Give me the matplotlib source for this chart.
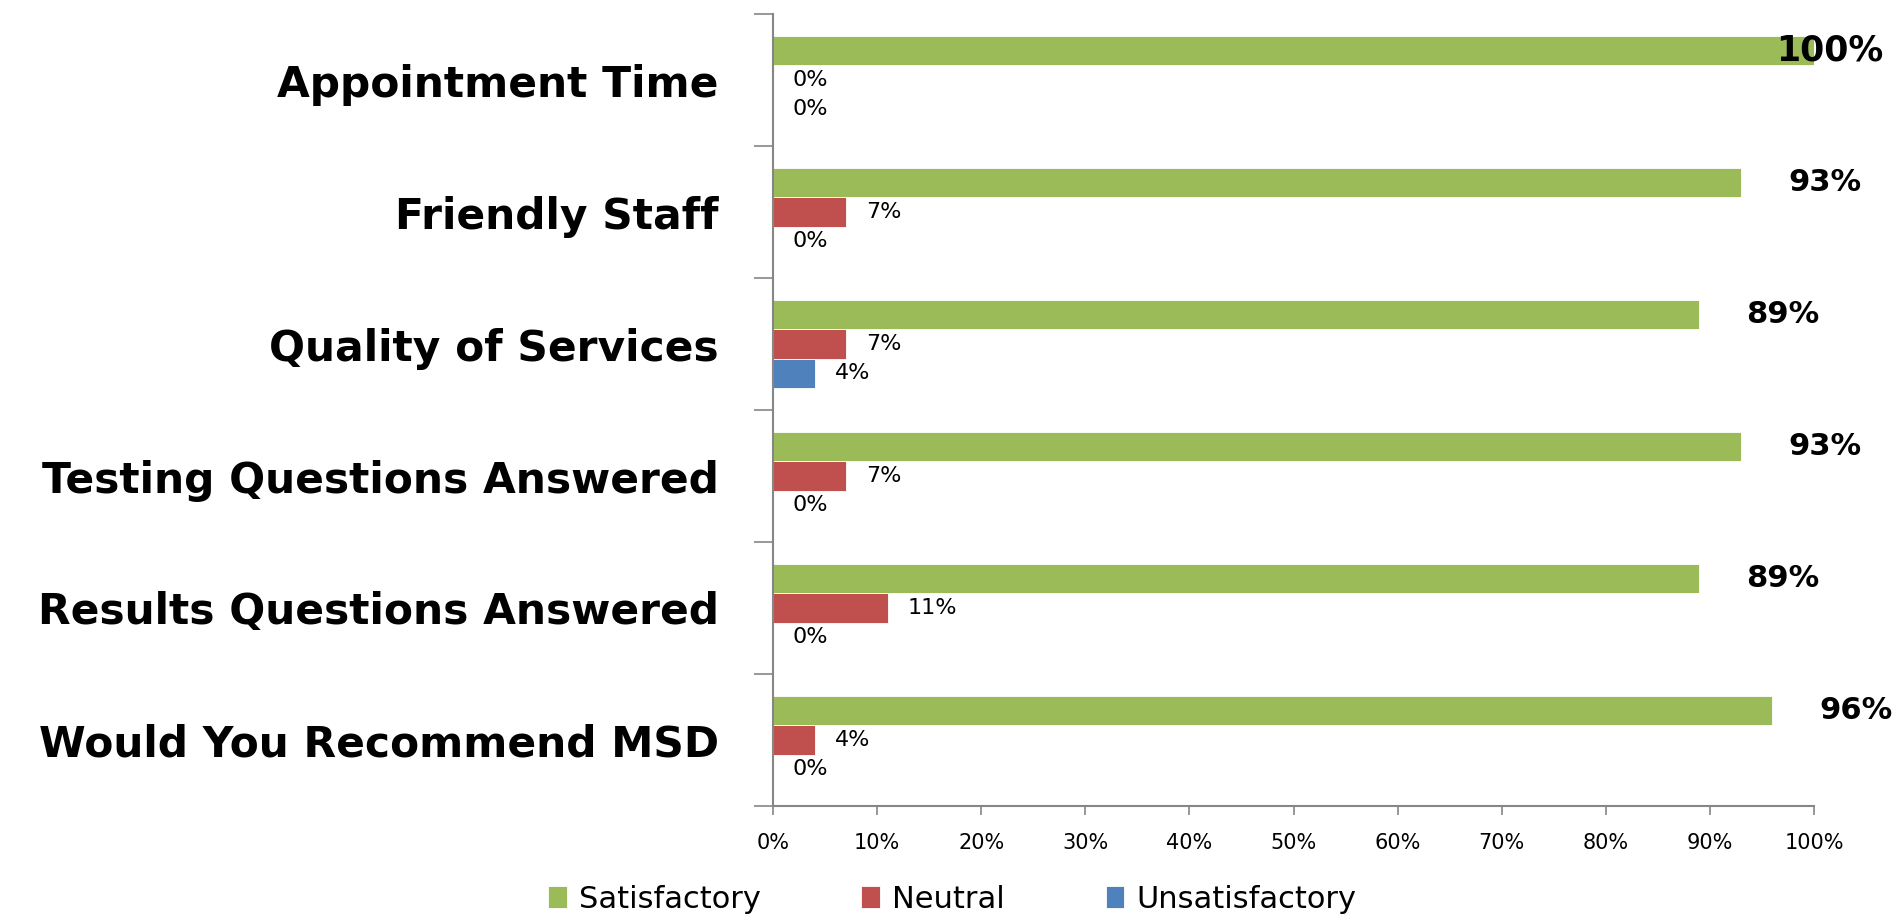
import matplotlib.pyplot as plt
import numpy as np

# survey categories, top to bottom
categories = ['Appointment Time', 'Friendly Staff', 'Quality of Services',
              'Testing Questions Answered', 'Results Questions Answered',
              'Would You Recommend MSD']
satisfactory = [100, 93, 89, 93, 89, 96]
neutral = [0, 7, 7, 7, 11, 4]
unsatisfactory = [0, 0, 4, 0, 0, 0]
xticks = [0, 10, 20, 30, 40, 50, 60, 70, 80, 90, 100]

GREEN = '#9BBB59'
RED = '#C0504D'
BLUE = '#4F81BD'
AXIS = '#868686'

fig = plt.figure(figsize=(18.93, 9.16), dpi=100)
ax = fig.add_axes([773/1893, 1 - 806/916, (1814 - 773)/1893, (806 - 14)/916])

y = np.arange(len(categories))
h = 1 / 4.5

series = [(satisfactory, GREEN, 'Satisfactory', -h),
          (neutral, RED, 'Neutral', 0),
          (unsatisfactory, BLUE, 'Unsatisfactory', h)]

for vals, col, name, off in series:
    ax.barh(y + off, vals, height=h, color=col, label=name,
            edgecolor='white', linewidth=0.6)
    for v, yy in zip(vals, y + off):
        if name == 'Satisfactory':
            if v >= 100:
                # no room past the axis end, pushed back over the bar
                ax.annotate(f'{v}%', (v, yy), xytext=(69, 0), textcoords='offset pixels',
                            ha='right', va='center', fontsize=25, fontweight='bold',
                            annotation_clip=False)
            else:
                ax.annotate(f'{v}%', (v, yy), xytext=(47, 0), textcoords='offset pixels',
                            ha='left', va='center', fontsize=22, fontweight='bold',
                            annotation_clip=False)
        else:
            ax.annotate(f'{v}%', (v, yy), xytext=(20, 0), textcoords='offset pixels',
                        ha='left', va='center', fontsize=16)

ax.set_xlim(0, 100)
ax.set_ylim(len(categories) - 0.5, -0.5)

ax.set_xticks(xticks)
ax.set_xticklabels([f'{t}%' for t in xticks], fontsize=15)
ax.tick_params(axis='x', length=6.5, width=1.2, color=AXIS, pad=13)

ax.set_yticks(y)
ax.set_yticklabels(categories, fontsize=30.5, fontweight='bold')
ax.set_yticks(np.arange(len(categories) + 1) - 0.5, minor=True)
ax.tick_params(axis='y', which='major', length=0, pad=39)
ax.tick_params(axis='y', which='minor', length=14, width=1.2, color=AXIS)

for s in ['top', 'right']:
    ax.spines[s].set_visible(False)
for s in ['left', 'bottom']:
    ax.spines[s].set_color(AXIS)
    ax.spines[s].set_linewidth(1.5)

fig.legend(loc='center', bbox_to_anchor=(0.503, 1 - 899/916), ncol=3, frameon=False,
           fontsize=22, handlelength=0.6, handleheight=0.7, handletextpad=0.4,
           columnspacing=3.3)

fig.savefig('out.png', dpi=100)
